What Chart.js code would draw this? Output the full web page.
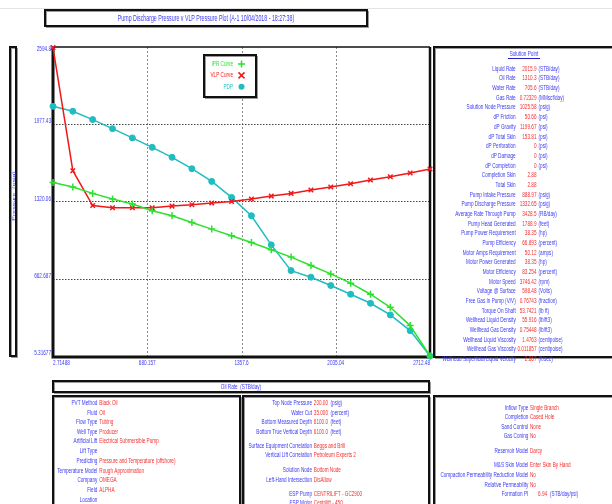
<!DOCTYPE html>
<html>
<head>
<meta charset="utf-8">
<script src="https://cdn.jsdelivr.net/npm/chart.js@4/dist/chart.umd.min.js"></script>
<style>
  html, body { margin: 0; padding: 0; background: #ffffff; }
  #wrap { width: 612px; height: 504px; }
</style>
</head>
<body>
<div id="wrap"><canvas id="plot" width="612" height="504"></canvas></div>
<script>
// Oil rate (STB/day) sampled along the curves
const rates = [2.71, 145.3, 287.9, 430.6, 573.2, 715.8, 858.4, 1001.0, 1143.6, 1286.3,
               1428.9, 1571.5, 1714.1, 1856.8, 1999.4, 2142.0, 2284.6, 2427.2, 2569.9, 2712.5];
// Pressures (psig)
const iprPressure = [1482, 1443, 1389, 1341, 1298, 1241, 1199, 1141, 1085, 1028,
                     971, 909, 847, 775, 704, 625, 531, 420, 264, 5.3];
const vlpPressure = [2630, 1582, 1286, 1267, 1267, 1266, 1281, 1292, 1307, 1320,
                     1341, 1366, 1389, 1418, 1443, 1471, 1503, 1531, 1562, 1597];
const pdpPressure = [2130, 2088, 2017, 1940, 1861, 1781, 1696, 1599, 1491, 1355,
                     1199, 951, 732, 676, 605, 531, 454, 355, 221, 5.3];

const seriesNames = ['IPR Curve', 'VLP Curve', 'PDP'];

// Axis ticks
const xTickValues = [2.71488, 680.157, 1357.6, 2035.04, 2712.48];
const xTickLabels = ['2.71488', '680.157', '1357.6', '2035.04', '2712.48'];
const yTickValues = [5.31677, 662.687, 1320.06, 1977.43, 2594.8];
const yTickLabels = ['5.31677', '662.687', '1320.06', '1977.43', '2594.8'];
const xRange = [2.71488, 2712.48];
const yRange = [5.31677, 2634.8];

const chartTitle = 'Pump Discharge Pressure v VLP Pressure Plot (A-1 10/04/2018 - 18:27:38)';
const xTitle = 'Oil Rate  (STB/day)';
const yTitle = 'Pressure  (psig)';

// Solution point summary: [label, value, unit]
const solutionRows = [
  ['Liquid Rate', '2015.9', '(STB/day)'],
  ['Oil Rate', '1310.3', '(STB/day)'],
  ['Water Rate', '705.6', '(STB/day)'],
  ['Gas Rate', '0.72329', '(MMscf/day)'],
  ['Solution Node Pressure', '1025.58', '(psig)'],
  ['dP Friction', '50.66', '(psi)'],
  ['dP Gravity', '1199.67', '(psi)'],
  ['dP Total Skin', '153.81', '(psi)'],
  ['dP Perforation', '0', '(psi)'],
  ['dP Damage', '0', '(psi)'],
  ['dP Completion', '0', '(psi)'],
  ['Completion Skin', '2.88', ''],
  ['Total Skin', '2.88', ''],
  ['Pump Intake Pressure', '888.97', '(psig)'],
  ['Pump Discharge Pressure', '1332.65', '(psig)'],
  ['Average Rate Through Pump', '3428.5', '(RB/day)'],
  ['Pump Head Generated', '1788.9', '(feet)'],
  ['Pump Power Requirement', '38.35', '(hp)'],
  ['Pump Efficiency', '66.893', '(percent)'],
  ['Motor Amps Requirement', '50.12', '(amps)'],
  ['Motor Power Generated', '38.35', '(hp)'],
  ['Motor Efficiency', '83.254', '(percent)'],
  ['Motor Speed', '3746.42', '(rpm)'],
  ['Voltage @ Surface', '598.48', '(Volts)'],
  ['Free Gas In Pump (V/V)', '0.76743', '(fraction)'],
  ['Torque On Shaft', '53.7421', '(lb ft)'],
  ['Wellhead Liquid Density', '55.916', '(lb/ft3)'],
  ['Wellhead Gas Density', '0.75448', '(lb/ft3)'],
  ['Wellhead Liquid Viscosity', '1.4763', '(centipoise)'],
  ['Wellhead Gas Viscosity', '0.011857', '(centipoise)'],
  ['Wellhead Superficial Liquid Velocity', '2.867', '(ft/sec)']
];

// Model summary panels: [label, value, unit, y]
const modelRows = [
  ['PVT Method', 'Black Oil', '', 403.3],
  ['Fluid', 'Oil', '', 412.8],
  ['Flow Type', 'Tubing', '', 422.3],
  ['Well Type', 'Producer', '', 431.8],
  ['Artificial Lift', 'Electrical Submersible Pump', '', 441.3],
  ['Lift Type', '', '', 451],
  ['Predicting', 'Pressure and Temperature (offshore)', '', 461.2],
  ['Temperature Model', 'Rough Approximation', '', 471],
  ['Company', 'OMEGA', '', 480.4],
  ['Field', 'ALPHA', '', 490],
  ['Location', '', '', 499.7]
];
const wellRows = [
  ['Top Node Pressure', '200.00', '(psig)', 403],
  ['Water Cut', '35.000', '(percent)', 412.7],
  ['Bottom Measured Depth', '6100.0', '(feet)', 422.3],
  ['Bottom True Vertical Depth', '6100.0', '(feet)', 431.7],
  ['Surface Equipment Correlation', 'Beggs and Brill', '', 446],
  ['Vertical Lift Correlation', 'Petroleum Experts 2', '', 455.4],
  ['Solution Node', 'Bottom Node', '', 470],
  ['Left-Hand Intersection', 'DisAllow', '', 479.7],
  ['ESP Pump', 'CENTRILIFT - GC2900', '', 493.7],
  ['ESP Motor', 'Centrilift - 450', '', 503]
];
const reservoirRows = [
  ['Inflow Type', 'Single Branch', '', 407.7],
  ['Completion', 'Cased Hole', '', 417.3],
  ['Sand Control', 'None', '', 427],
  ['Gas Coning', 'No', '', 436.4],
  ['Reservoir Model', 'Darcy', '', 451.3],
  ['M&S Skin Model', 'Enter Skin By Hand', '', 465.3],
  ['Compaction Permeability Reduction Model', 'No', '', 475],
  ['Relative Permeability', 'No', '', 484.7],
  ['Formation PI', '6.94', '(STB/day/psi)', 494]
];

const BLUE = '#3a3af2';
const RED = '#f23030';
const GREEN = '#2ee02e';
const VLPRED = '#f01818';
const CYAN = '#1fbcc0';
const SQUASH = 0.62;
const FONT = '"Liberation Sans", Arial, sans-serif';

function txt(ctx, s, x, y, color, align, size) {
  if (!s) return;
  ctx.save();
  ctx.translate(x, y);
  ctx.scale(SQUASH, 1);
  ctx.font = (size || 7.5) + 'px ' + FONT;
  ctx.textAlign = align || 'left';
  ctx.textBaseline = 'middle';
  ctx.fillStyle = color;
  ctx.fillText(s, 0, 0);
  ctx.restore();
}

function box(ctx, x, y, w, h, lw) {
  ctx.save();
  ctx.fillStyle = '#ffffff';
  ctx.fillRect(x, y, w, h);
  ctx.strokeStyle = '#9a9a9a';
  ctx.lineWidth = 1;
  ctx.strokeRect(x + 1.5, y + 1.5, w, h);
  ctx.strokeStyle = '#111111';
  ctx.lineWidth = lw || 2;
  ctx.strokeRect(x, y, w, h);
  ctx.restore();
}

function marker(ctx, kind, x, y, color) {
  ctx.save();
  ctx.strokeStyle = color;
  ctx.fillStyle = color;
  ctx.lineWidth = 1.5;
  ctx.beginPath();
  if (kind === 'cross') {
    ctx.moveTo(x - 3.5, y); ctx.lineTo(x + 3.5, y);
    ctx.moveTo(x, y - 3.5); ctx.lineTo(x, y + 3.5);
    ctx.stroke();
  } else if (kind === 'crossRot') {
    ctx.moveTo(x - 3, y - 3); ctx.lineTo(x + 3, y + 3);
    ctx.moveTo(x + 3, y - 3); ctx.lineTo(x - 3, y + 3);
    ctx.stroke();
  } else {
    ctx.arc(x, y, 3, 0, Math.PI * 2);
    ctx.fill();
  }
  ctx.restore();
}

const panelsPlugin = {
  id: 'panels',
  beforeDraw(chart) {
    const ctx = chart.ctx;
    ctx.save();
    ctx.fillStyle = '#ffffff';
    ctx.fillRect(0, 0, chart.width, chart.height);
    // thin window rule along the top
    ctx.strokeStyle = '#e4e4e4';
    ctx.lineWidth = 1;
    ctx.beginPath(); ctx.moveTo(0, 8.5); ctx.lineTo(612, 8.5); ctx.stroke();
    ctx.restore();

    // title box
    box(ctx, 45, 10, 322, 16, 2);
    txt(ctx, chartTitle, 206, 18.5, BLUE, 'center', 8.5);

    // vertical axis title box
    box(ctx, 10, 47, 6, 309, 2);
    ctx.save();
    ctx.translate(13.5, 196);
    ctx.scale(SQUASH, 1);
    ctx.rotate(-Math.PI / 2);
    ctx.font = '7px ' + FONT;
    ctx.textAlign = 'center';
    ctx.textBaseline = 'middle';
    ctx.fillStyle = BLUE;
    ctx.fillText(yTitle, 0, 0);
    ctx.restore();
  },
  beforeDatasetsDraw(chart) {
    const ctx = chart.ctx;
    const a = chart.chartArea;
    const xs = chart.scales.x, ys = chart.scales.y;
    ctx.save();
    // dotted grid at interior ticks
    ctx.lineWidth = 1;
    ctx.setLineDash([2, 2]);
    ctx.strokeStyle = '#8a8a8a';
    xTickValues.slice(1, -1).forEach(v => {
      const px = Math.round(xs.getPixelForValue(v)) + 0.5;
      ctx.beginPath(); ctx.moveTo(px, a.top); ctx.lineTo(px, a.bottom); ctx.stroke();
    });
    ctx.strokeStyle = '#444444';
    ctx.setLineDash([1.5, 1.5]);
    yTickValues.slice(1, -1).forEach(v => {
      const py = Math.round(ys.getPixelForValue(v)) + 0.5;
      ctx.beginPath(); ctx.moveTo(a.left, py); ctx.lineTo(a.right, py); ctx.stroke();
    });
    ctx.setLineDash([]);
    // plot frame
    ctx.strokeStyle = '#111111';
    ctx.lineWidth = 1.5;
    ctx.beginPath(); ctx.moveTo(a.left, a.top); ctx.lineTo(a.right, a.top); ctx.stroke();
    ctx.lineWidth = 2.5;
    ctx.beginPath(); ctx.moveTo(a.right, a.top); ctx.lineTo(a.right, a.bottom); ctx.stroke();
    ctx.lineWidth = 3;
    ctx.beginPath(); ctx.moveTo(a.left, a.top); ctx.lineTo(a.left, a.bottom + 1); ctx.lineTo(a.right + 1, a.bottom + 1); ctx.stroke();
    ctx.restore();
  },
  afterDraw(chart) {
    const ctx = chart.ctx;
    const a = chart.chartArea;
    const xs = chart.scales.x, ys = chart.scales.y;

    // tick labels
    yTickValues.forEach((v, i) => {
      txt(ctx, yTickLabels[i], a.left - 2, ys.getPixelForValue(v) - 3, BLUE, 'right');
    });
    xTickValues.forEach((v, i) => {
      const align = i === 0 ? 'left' : (i === xTickValues.length - 1 ? 'right' : 'center');
      txt(ctx, xTickLabels[i], xs.getPixelForValue(v), 363, BLUE, align);
    });

    // legend
    box(ctx, 204, 55, 52, 42, 2);
    const kinds = ['cross', 'crossRot', 'circle'];
    const cols = [GREEN, VLPRED, CYAN];
    seriesNames.forEach((n, i) => {
      const y = 64 + i * 11.4;
      txt(ctx, n, 233, y, cols[i], 'right');
      marker(ctx, kinds[i], 241.5, y, cols[i]);
    });

    // solution point panel
    box(ctx, 434, 47, 190, 310, 2);
    txt(ctx, 'Solution Point', 524, 54, BLUE, 'center');
    ctx.save();
    ctx.strokeStyle = '#2020c0';
    ctx.lineWidth = 1;
    ctx.beginPath(); ctx.moveTo(508, 58.5); ctx.lineTo(540, 58.5); ctx.stroke();
    ctx.restore();
    solutionRows.forEach((r, i) => {
      const y = 68.7 + i * 9.68;
      txt(ctx, r[0], 515.7, y, BLUE, 'right');
      txt(ctx, r[1], 536.5, y, RED, 'right');
      txt(ctx, r[2], 538.5, y, BLUE, 'left');
    });

    // horizontal axis title box
    box(ctx, 53, 381, 376, 11, 2);
    txt(ctx, xTitle, 241, 387, BLUE, 'center');

    // lower panels
    box(ctx, 53, 396, 187, 120, 2);
    box(ctx, 243, 396, 186, 120, 2);
    box(ctx, 434, 396, 190, 120, 2);
    modelRows.forEach(r => {
      txt(ctx, r[0], 97.3, r[3], BLUE, 'right');
      txt(ctx, r[1], 99.3, r[3], RED, 'left');
    });
    wellRows.forEach(r => {
      txt(ctx, r[0], 312, r[3], BLUE, 'right');
      txt(ctx, r[1], 313.8, r[3], RED, 'left');
      txt(ctx, r[2], 330.5, r[3], BLUE, 'left');
    });
    reservoirRows.forEach(r => {
      txt(ctx, r[0], 528.3, r[3], BLUE, 'right');
      if (r[2]) {
        txt(ctx, r[1], 538, r[3], RED, 'left');
        txt(ctx, r[2], 550, r[3], BLUE, 'left');
      } else {
        txt(ctx, r[1], 530, r[3], RED, 'left');
      }
    });
  }
};

const toPoints = ys => rates.map((x, i) => ({ x: x, y: ys[i] }));

new Chart(document.getElementById('plot'), {
  type: 'line',
  data: {
    datasets: [
      {
        label: seriesNames[0], data: toPoints(iprPressure),
        borderColor: GREEN, backgroundColor: GREEN, borderWidth: 1.5,
        pointStyle: 'cross', pointRadius: 3.5, pointBorderWidth: 1.5, clip: false
      },
      {
        label: seriesNames[1], data: toPoints(vlpPressure),
        borderColor: VLPRED, backgroundColor: VLPRED, borderWidth: 1.5,
        pointStyle: 'crossRot', pointRadius: 3.2, pointBorderWidth: 1.5, clip: false
      },
      {
        label: seriesNames[2], data: toPoints(pdpPressure),
        borderColor: CYAN, backgroundColor: CYAN, borderWidth: 1.5,
        pointStyle: 'circle', pointRadius: 3, pointBorderWidth: 1, clip: false
      }
    ]
  },
  options: {
    responsive: false,
    animation: false,
    events: [],
    layout: { padding: { left: 53, right: 182, top: 47, bottom: 148 } },
    plugins: { legend: { display: false }, tooltip: { enabled: false }, title: { display: false } },
    elements: { line: { tension: 0 } },
    scales: {
      x: {
        type: 'linear', min: xRange[0], max: xRange[1],
        grid: { display: false }, border: { display: false },
        ticks: { display: false },
        afterFit: s => { s.height = 0; }
      },
      y: {
        type: 'linear', min: yRange[0], max: yRange[1],
        grid: { display: false }, border: { display: false },
        ticks: { display: false },
        afterFit: s => { s.width = 0; }
      }
    }
  },
  plugins: [panelsPlugin]
});
</script>
</body>
</html>
